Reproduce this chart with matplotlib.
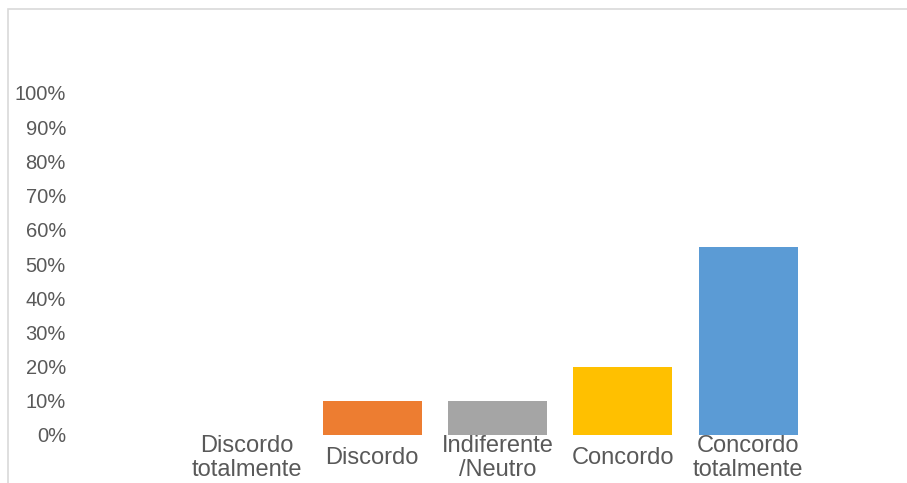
import matplotlib
matplotlib.use('Agg')
import matplotlib.pyplot as plt
from matplotlib.patches import Rectangle

categories = ['Discordo\ntotalmente', 'Discordo', 'Indiferente\n/Neutro', 'Concordo', 'Concordo\ntotalmente']
values = [0.0, 0.10, 0.10, 0.20, 0.55]
colors = ['#4472C4', '#ED7D31', '#A5A5A5', '#FFC000', '#5B9BD5']
yticks = [i / 10 for i in range(11)]
ytick_labels = [f'{i * 10}%' for i in range(11)]

plt.rcParams['font.family'] = ['Liberation Sans', 'DejaVu Sans']
txt = '#595959'

fig = plt.figure(figsize=(9.07, 4.83), dpi=100)
W, H = 907, 483

# light chart-area border (cut off at right and bottom)
fig.patches.append(Rectangle((8 / W, -0.1), 1.2, (H - 9) / H + 0.1,
                             transform=fig.transFigure, fill=False,
                             edgecolor='#d9d9d9', lw=1.2))

ax = fig.add_axes([184 / W, (H - 435) / H, 627 / W, 342 / H])
x = list(range(len(categories)))
ax.bar(x, values, width=0.79, color=colors)

ax.set_xlim(-0.5, len(categories) - 0.5)
ax.set_ylim(0, 1)
ax.set_yticks(yticks)
ax.set_yticklabels(ytick_labels, fontsize=14.5, color=txt)
ax.set_xticks(x)
ax.set_xticklabels(categories, fontsize=17, color=txt, linespacing=1.15)
for lab in ax.get_xticklabels():
    lab.set_va('center')
ax.tick_params(axis='x', length=0, pad=16.5)
ax.tick_params(axis='y', length=0, pad=85)
for s in ax.spines.values():
    s.set_visible(False)

plt.savefig('out.png', dpi=100)
plt.close()
